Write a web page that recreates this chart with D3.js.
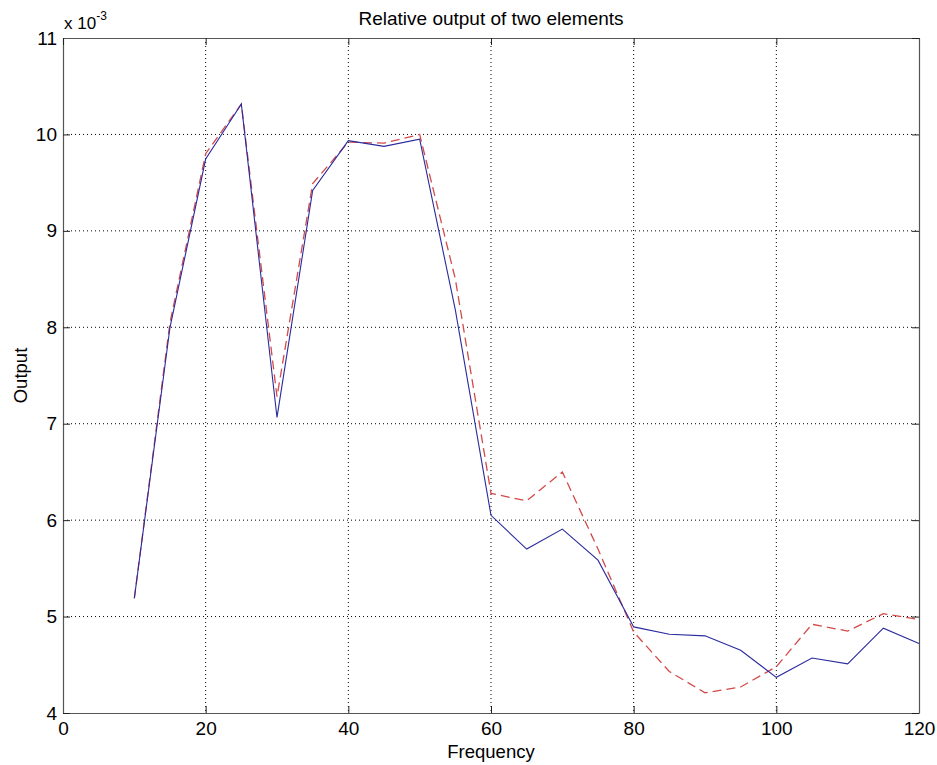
<!DOCTYPE html>
<html>
<head>
<meta charset="utf-8">
<script src="https://cdn.jsdelivr.net/npm/d3@7"></script>
<style>
  body { margin: 0; background: #fff; }
  svg text { font-family: "Liberation Sans", Arial, sans-serif; fill: #000; }
</style>
</head>
<body>
<div id="chart"></div>
<script>
// frequency values (x)
var freq = [10, 15, 20, 25, 30, 35, 40, 45, 50, 55, 60, 65, 70, 75, 80, 85, 90, 95, 100, 105, 110, 115, 120];
// element 1 (solid blue), units of 1e-3
var out1 = [5.19, 8.0, 9.745, 10.315, 7.065, 9.42, 9.935, 9.876, 9.95, 8.18, 6.05, 5.70, 5.907, 5.585, 4.893, 4.817, 4.80, 4.65, 4.37, 4.57, 4.51, 4.88, 4.72];
// element 2 (dashed red)
var out2 = [5.19, 8.05, 9.80, 10.315, 7.28, 9.49, 9.92, 9.91, 10.0, 8.5, 6.277, 6.20, 6.50, 5.70, 4.84, 4.43, 4.21, 4.27, 4.48, 4.92, 4.85, 5.03, 4.97];
var xTicks = [0, 20, 40, 60, 80, 100, 120];
var yTicks = [4, 5, 6, 7, 8, 9, 10, 11];

var width = 937, height = 765;
var margin = { top: 38, right: 18, bottom: 52, left: 63 };
var chartWidth = width - margin.left - margin.right;
var chartHeight = height - margin.top - margin.bottom;

var svg = d3.select("#chart").append("svg")
  .attr("width", width)
  .attr("height", height);

var chartGroup = svg.append("g")
  .attr("transform", `translate(${margin.left}, ${margin.top})`);

var xScale = d3.scaleLinear().domain([0, 120]).range([0, chartWidth]);
var yScale = d3.scaleLinear().domain([4, 11]).range([chartHeight, 0]);

// dotted grid
chartGroup.selectAll(".vgrid").data(xTicks.slice(1, -1)).enter()
  .append("line")
  .attr("x1", d => xScale(d)).attr("x2", d => xScale(d))
  .attr("y1", 0).attr("y2", chartHeight)
  .attr("stroke", "#000").attr("stroke-width", 1)
  .attr("stroke-dasharray", "1,3");

chartGroup.selectAll(".hgrid").data(yTicks.slice(1, -1)).enter()
  .append("line")
  .attr("x1", 0).attr("x2", chartWidth)
  .attr("y1", d => yScale(d)).attr("y2", d => yScale(d))
  .attr("stroke", "#000").attr("stroke-width", 1)
  .attr("stroke-dasharray", "1,3");

// axes (ticks pointing inward, on all four sides)
var fmt = d3.format("d");
var bottomAxis = d3.axisBottom(xScale).tickValues(xTicks).tickFormat(fmt).tickSizeInner(-7).tickSizeOuter(0).tickPadding(9);
var leftAxis = d3.axisLeft(yScale).tickValues(yTicks).tickFormat(fmt).tickSizeInner(-7).tickSizeOuter(0).tickPadding(6);
var topAxis = d3.axisTop(xScale).tickValues(xTicks).tickSizeInner(-7).tickSizeOuter(0).tickFormat("");
var rightAxis = d3.axisRight(yScale).tickValues(yTicks).tickSizeInner(-7).tickSizeOuter(0).tickFormat("");

var gx = chartGroup.append("g")
  .attr("transform", "translate(0, " + chartHeight + ")")
  .call(bottomAxis);
var gy = chartGroup.append("g").call(leftAxis);
var gt = chartGroup.append("g").call(topAxis);
var gr = chartGroup.append("g")
  .attr("transform", "translate(" + chartWidth + ", 0)")
  .call(rightAxis);

[gx, gy, gt, gr].forEach(function(g) {
  g.attr("font-size", 19).attr("font-family", "'Liberation Sans', Arial, sans-serif");
  g.selectAll("path").attr("stroke", "#555").attr("stroke-width", 1.2);
  g.selectAll("line").attr("stroke", "#222");
  g.selectAll("text").attr("fill", "#000");
});

// lines
var line1 = d3.line().x((d, i) => xScale(freq[i])).y(d => yScale(d));

chartGroup.append("path")
  .datum(out2)
  .attr("d", line1)
  .attr("fill", "none")
  .attr("stroke", "#d24a4a")
  .attr("stroke-width", 1.3)
  .attr("stroke-dasharray", "9,5");

chartGroup.append("path")
  .datum(out1)
  .attr("d", line1)
  .attr("fill", "none")
  .attr("stroke", "#2a2a9e")
  .attr("stroke-width", 1.1);

// exponent label
var expo = svg.append("text")
  .attr("x", 64).attr("y", 29)
  .attr("font-size", 17);
expo.append("tspan").text("x 10");
expo.append("tspan").attr("dy", -9).attr("font-size", 12).text("-3");

// title
svg.append("text")
  .attr("x", margin.left + chartWidth / 2).attr("y", 25)
  .attr("text-anchor", "middle")
  .attr("font-size", 19)
  .text("Relative output of two elements");

// axis labels
svg.append("text")
  .attr("x", margin.left + chartWidth / 2 + 0).attr("y", 758)
  .attr("text-anchor", "middle")
  .attr("font-size", 18.5)
  .text("Frequency");

svg.append("text")
  .attr("transform", "translate(27, " + (margin.top + chartHeight / 2) + ") rotate(-90)")
  .attr("text-anchor", "middle")
  .attr("font-size", 18.5)
  .text("Output");
</script>
</body>
</html>
